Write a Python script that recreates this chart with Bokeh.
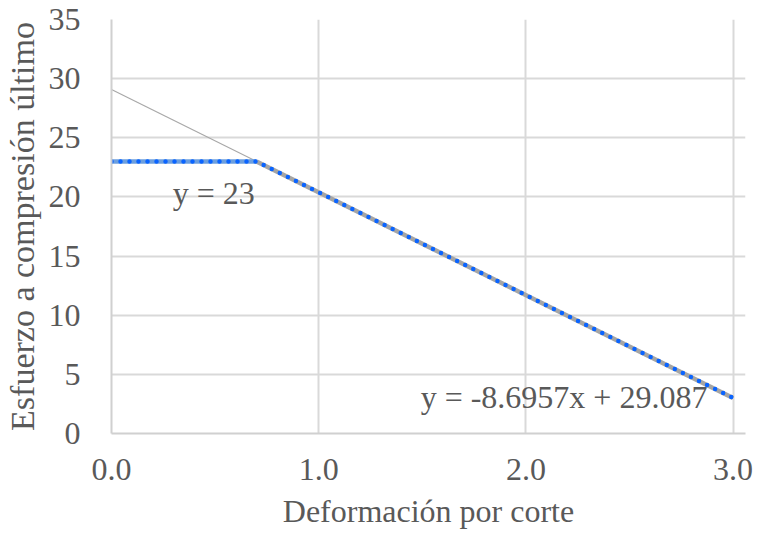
from bokeh.plotting import figure
from bokeh.models import FixedTicker, Range1d, Label
from bokeh.embed import file_html
from bokeh.resources import INLINE

# data
series_x = [0.0, 0.7, 3.0]
series_y = [23.0, 23.0, 3.0]
flat_x = [0.0, 0.7]
flat_y = [23.0, 23.0]
slope_x = [0.7, 3.0]
slope_y = [23.0, 3.0]
trend_x = [0.0, 3.0]
trend_y = [29.087, 3.0]
x_ticks = [0, 1, 2, 3]
x_tick_labels = ["0.0", "1.0", "2.0", "3.0"]
y_ticks = [0, 5, 10, 15, 20, 25, 30, 35]
eq_flat = "y = 23"
eq_slope = "y = -8.6957x + 29.087"

FONT = "Liberation Serif"
TXT = "#595959"
FS = "32px"

p = figure(width=764, height=538, output_backend="svg", toolbar_location=None,
           x_range=Range1d(0, 3.06), y_range=Range1d(0, 35),
           min_border_left=108, min_border_right=19, min_border_top=19, min_border_bottom=105)
p.outline_line_color = None
p.background_fill_color = "white"

# axes
p.xaxis.ticker = FixedTicker(ticks=x_ticks)
p.xaxis.major_label_overrides = {t: l for t, l in zip(x_ticks, x_tick_labels)}
p.yaxis.ticker = FixedTicker(ticks=y_ticks)
for ax in (p.xaxis[0], p.yaxis[0]):
    ax.major_label_text_font = FONT
    ax.major_label_text_font_size = FS
    ax.major_label_text_color = TXT
    ax.axis_label_text_font = FONT
    ax.axis_label_text_font_size = FS
    ax.axis_label_text_font_style = "normal"
    ax.axis_label_text_color = TXT
    ax.major_tick_line_color = None
    ax.minor_tick_line_color = None
    ax.axis_line_color = "#d0d0d0"
    ax.axis_line_width = 2
p.yaxis.axis_label_text_font_size = "34px"
p.xaxis.axis_label = "Deformación por corte"
p.yaxis.axis_label = "Esfuerzo a compresión último"
p.xaxis.major_label_standoff = 19
p.xaxis.axis_label_standoff = 10
p.yaxis.major_label_standoff = 25
p.yaxis.axis_label_standoff = 5

p.xgrid.ticker = FixedTicker(ticks=x_ticks)
p.ygrid.ticker = FixedTicker(ticks=y_ticks)
p.grid.grid_line_color = "#d9d9d9"
p.grid.grid_line_width = 2

# thin trendline
p.line(trend_x, trend_y, line_color="#a8a8a8", line_width=1.2)
# thick underlays
p.line(flat_x, flat_y, line_color="#6c9fdf", line_width=4.5)
p.line(slope_x, slope_y, line_color="#a5a5a5", line_width=4.5)
# dotted series
p.line(series_x, series_y, line_color="#0a64ff", line_width=4.5,
       line_dash="0 9", line_cap="round", line_join="round")

p.add_layout(Label(x=0.296, y=20.3, text=eq_flat, text_font=FONT, text_font_size=FS,
                   text_color=TXT, text_baseline="alphabetic"))
p.add_layout(Label(x=1.492, y=3.1, text=eq_slope, text_font=FONT, text_font_size=FS,
                   text_color=TXT, text_baseline="alphabetic"))

open("out.html", "w").write(file_html(p, INLINE))
